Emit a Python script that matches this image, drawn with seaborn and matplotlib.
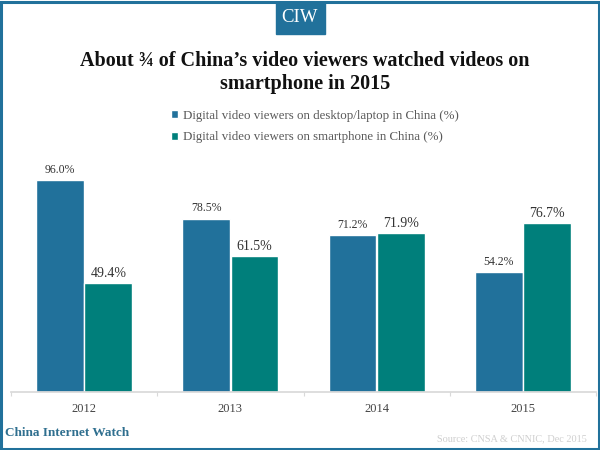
"""
China video viewers by device, 2012-2015
"""

import matplotlib.pyplot as plt
import pandas as pd
import seaborn as sns
from matplotlib.patches import Rectangle

years = ["2012", "2013", "2014", "2015"]
desktop = [96.0, 78.5, 71.2, 54.2]
smartphone = [49.4, 61.5, 71.9, 76.7]

desktop_name = "Digital video viewers on desktop/laptop in China (%)"
smartphone_name = "Digital video viewers on smartphone in China (%)"
title = "About ¾ of China’s video viewers watched videos on\nsmartphone in 2015"

BLUE = "#21719b"
TEAL = "#007f7b"

sns.set_theme(style="white")
plt.rcParams["font.family"] = ["Liberation Serif", "DejaVu Serif"]

df = pd.DataFrame({
    "year": years * 2,
    "value": desktop + smartphone,
    "series": [desktop_name] * 4 + [smartphone_name] * 4,
})

fig = plt.figure(figsize=(6, 4.5), dpi=100)
ax = fig.add_axes([11 / 600, 1 - 392 / 450, 585 / 600, 222 / 450])

sns.barplot(
    data=df, x="year", y="value", hue="series", saturation=1,
    palette=[BLUE, TEAL], width=0.66, gap=0.01, ax=ax,
)
ax.set_ylim(0, 100.5)
ax.set_xlim(-0.5, 3.5)
ax.set_xlabel("")
ax.set_ylabel("")
ax.set_yticks([])

# tick marks sit between the groups, not under them
ax.set_xticks([0, 1, 2, 3], years)
ax.set_xticks([-0.5, 0.5, 1.5, 2.5, 3.5], minor=True)
ax.tick_params(axis="x", which="major", length=0, labelsize=9, colors="#444444", pad=8)
ax.tick_params(axis="x", which="minor", length=3, color="#d9d9d9", width=0.8, bottom=True)

sns.despine(ax=ax, left=True)
ax.spines["bottom"].set_color("#d9d9d9")

ax.bar_label(ax.containers[0], fmt="%.1f%%", fontsize=8.5, color="#333333", padding=3)
ax.bar_label(ax.containers[1], fmt="%.1f%%", fontsize=10, color="#333333", padding=2)

leg = ax.legend(
    loc="upper center", bbox_to_anchor=(0.5, 1.0), bbox_transform=fig.transFigure,
    frameon=False, fontsize=9.3, handlelength=0.55, handleheight=0.55,
    handletextpad=0.4, labelspacing=0.75, labelcolor="#595959", alignment="left",
)
leg.set_bbox_to_anchor((315 / 600, 1 - 98 / 450), transform=fig.transFigure)

fig.text(0.508, 1 - 73 / 450, title, ha="center", va="center", fontsize=14.5,
         fontweight="bold", color="#111111", linespacing=1.2)

# frame and logo tab
fig.add_artist(Rectangle((0.002, 0.003), 0.996, 0.992, transform=fig.transFigure,
                         fill=False, edgecolor="#21719b", linewidth=2.2))
fig.add_artist(Rectangle((276 / 600, 1 - 34 / 450), 49 / 600, 32 / 450,
                         transform=fig.transFigure, color=BLUE, zorder=3))
fig.text(300 / 600, 1 - 18 / 450, "CIW", ha="center", va="center", fontsize=13.5,
         color="white", zorder=4)

fig.text(5 / 600, 1 - 433 / 450, "China Internet Watch", ha="left", va="center",
         fontsize=9.5, fontweight="bold", color="#2f6f8f")
fig.text(587 / 600, 1 - 439 / 450, "Source: CNSA & CNNIC, Dec 2015", ha="right",
         va="center", fontsize=7.4, color="#cfcfcf")

fig.savefig("out.png", dpi=100)
plt.close(fig)
